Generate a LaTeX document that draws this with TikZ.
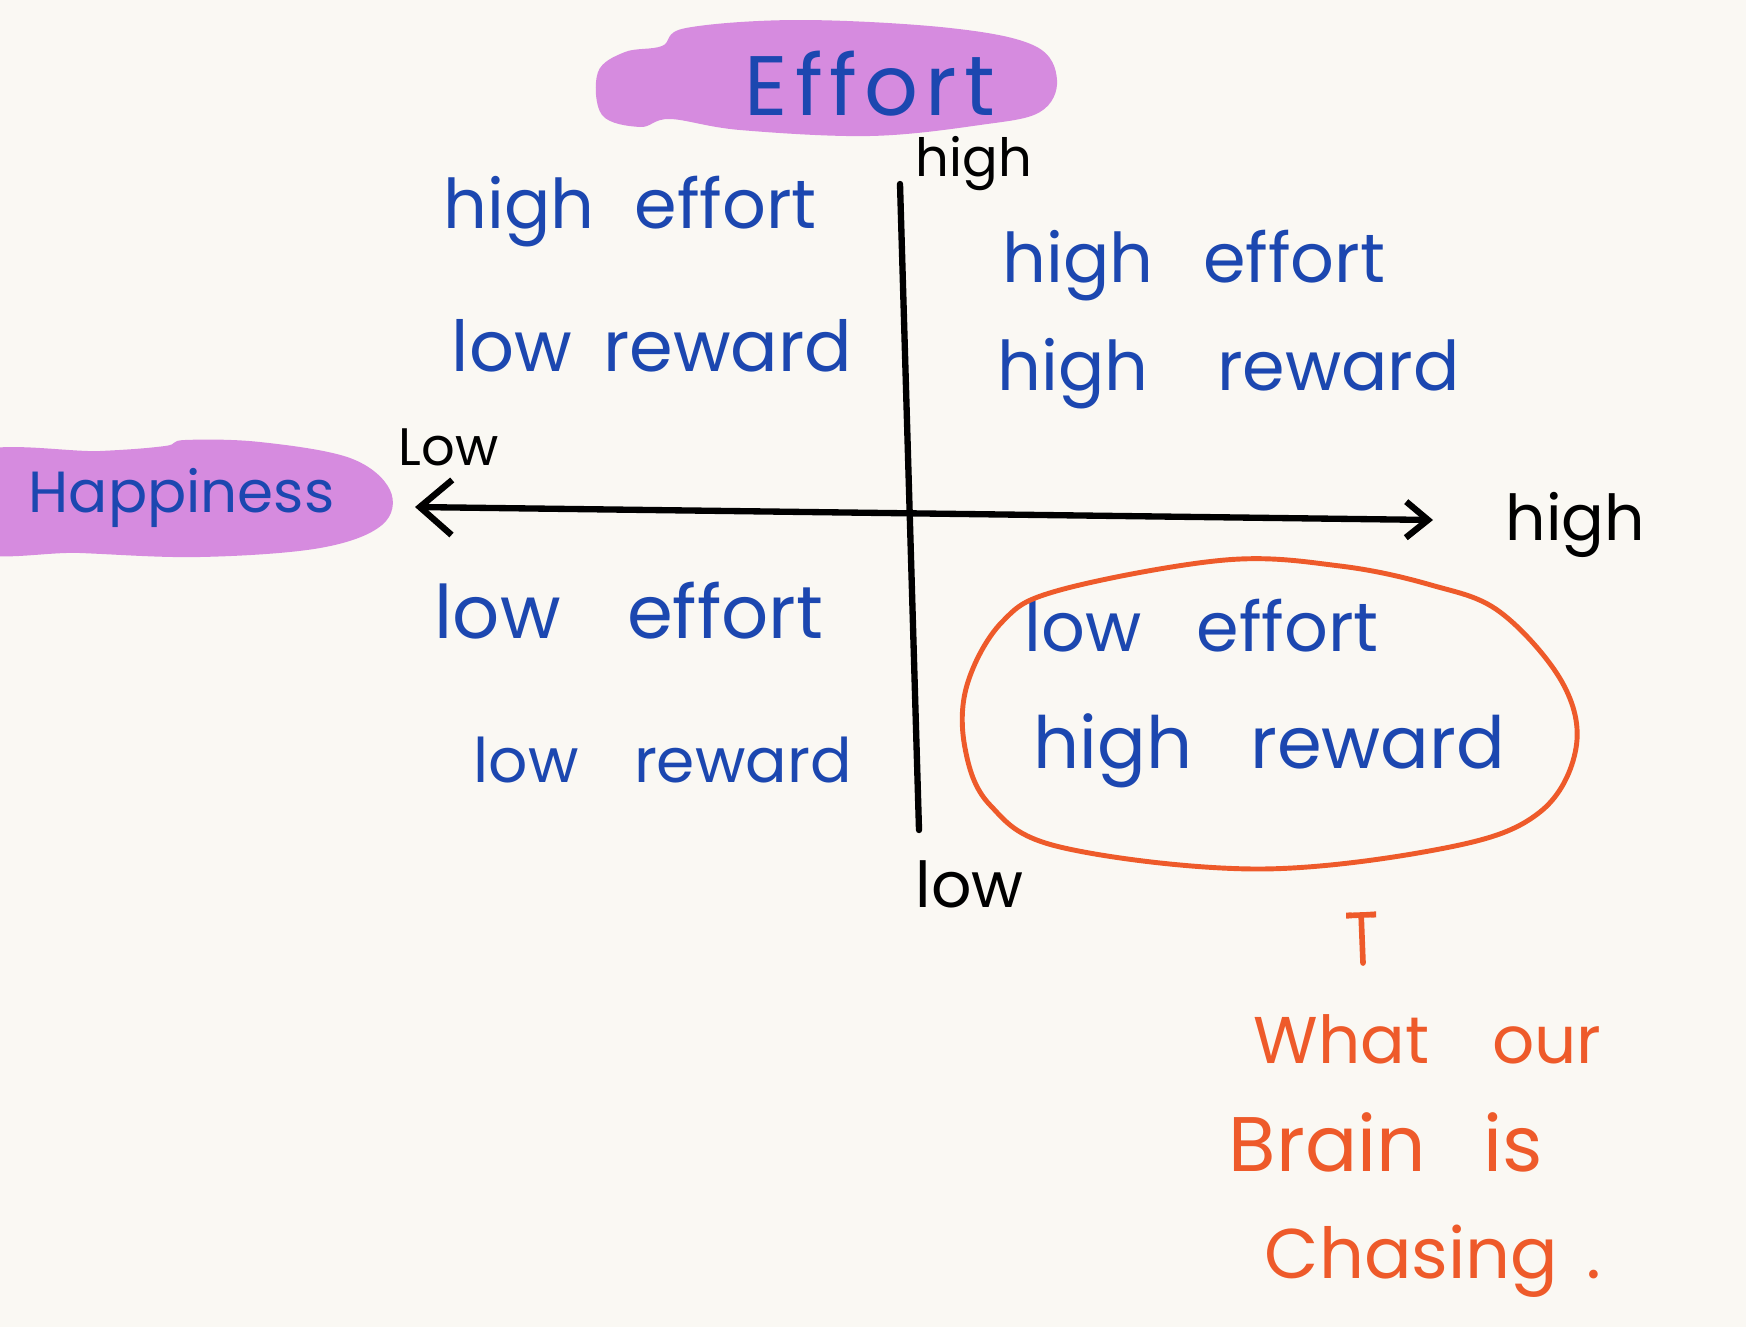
\documentclass[tikz,border=0pt]{standalone}
\usepackage{fontspec}
\setmainfont{Poppins}
\usetikzlibrary{arrows.meta}
\definecolor{bgc}{HTML}{FAF8F3}
\definecolor{blob}{HTML}{D68BDF}
\definecolor{inkblue}{HTML}{1C47B0}
\definecolor{inkorange}{HTML}{EE5A2A}
\newcommand{\fsz}[1]{\fontsize{#1}{#1}\selectfont}
\tikzset{
  quad/.style={anchor=base west, inner sep=0pt, text=inkblue},
  axlab/.style={anchor=base west, inner sep=0pt, text=black, font=\fsz{17}},
  note/.style={anchor=base west, inner sep=0pt, text=inkorange},
  title/.style={anchor=base west, inner sep=0pt, text=inkblue},
  axis/.style={line width=1.8pt, line cap=round, line join=round, black},
}
\begin{document}
\begin{tikzpicture}[x=0.01cm, y=-0.01cm]
\useasboundingbox (0,0) rectangle (1746,1327);
\fill[bgc] (0,0) rectangle (1746,1327);
\begin{scope}
\clip (0,0) rectangle (1746,1327);
% purple blobs
\fill[blob] plot[smooth cycle, tension=0.6] coordinates {(598,72) (625,52) (662,46) (686,28) (800,20) (950,28) (1035,46) (1057,80) (1040,112) (980,125) (870,136) (740,130) (670,119) (640,127) (602,115)};
\fill[blob] plot[smooth cycle, tension=0.6] coordinates {(-30,455) (100,451) (165,446) (185,440) (260,442) (350,458) (390,490) (382,525) (320,548) (200,557) (80,553) (-30,548)};
\end{scope}
% titles
\node[title, font=\fsz{24}] (eff) at (744,115) {E\kern2pt f\kern2pt f\kern2pt o\kern2pt r\kern2pt t};
\node[title, font=\fsz{16.5}] (hap) at (28,512) {Happiness};
% axes
\coordinate (vt) at (900,184);
\coordinate (vb) at (919,830);
\coordinate (hl) at (415,507);
\coordinate (hr) at (1433,520);
\draw[axis] (vt) -- (vb);
\draw[axis, {Straight Barb[length=0.32cm, width=0.55cm, line width=1.8pt]}-{Straight Barb[length=0.22cm, width=0.36cm, line width=1.8pt]}] (hl) -- (hr);
% axis labels
\node[axlab, font=\fsz{15}] (ht) at (915,176) {high};
\node[axlab, font=\fsz{18}] (lb) at (915,907) {low};
\node[axlab, font=\fsz{15}] (ll) at (398,465) {Low};
\node[axlab, font=\fsz{18}] (hrl) at (1505,540) {high};
% quadrant texts
\node[quad, font=\fsz{19.5}] (tl1) at (443,228) {high\hspace{0.58em}effort};
\node[quad, font=\fsz{20}] (tl2) at (451,371) {low\hspace{0.45em}reward};
\node[quad, font=\fsz{19.5}] (tr1) at (1002,282) {high\hspace{0.72em}effort};
\node[quad, font=\fsz{19.5}] (tr2) at (997,390) {high\hspace{1.0em}reward};
\node[quad, font=\fsz{21}] (bl1) at (434,638) {low\hspace{0.9em}effort};
\node[quad, font=\fsz{17.5}] (bl2) at (473,782) {low\hspace{0.9em}reward};
\node[quad, font=\fsz{19.5}] (br1) at (1024,651) {low\hspace{0.8em}effort};
\node[quad, font=\fsz{20.5}] (br2) at (1033,768) {high\hspace{0.8em}reward};
% orange loop
\draw[inkorange, line width=1.4pt] plot[smooth cycle, tension=0.6] coordinates {(1225,560) (1060,590) (1002,622) (967,685) (965,748) (990,805) (1060,847) (1258,869) (1450,847) (1540,812) (1576,748) (1562,682) (1500,612) (1431,585) (1340,566)};
% orange arrow
\coordinate (as) at (1363,963);
\coordinate (ae) at (1361,912);
\draw[inkorange, line width=1.6pt, line cap=round, -{Tee Barb[width=0.3cm, length=0.06cm, line width=1.6pt]}] (as) -- (ae);
% orange note
\node[note, font=\fsz{18.8}] (n1) at (1253,1063) {What\hspace{0.95em}our};
\node[note, font=\fsz{22}] (n2) at (1228,1171) {Brain\hspace{0.75em}is};
\node[note, font=\fsz{20}] (n3) at (1264,1278) {Chasing\hspace{0.4em}.};
\end{tikzpicture}
\end{document}
